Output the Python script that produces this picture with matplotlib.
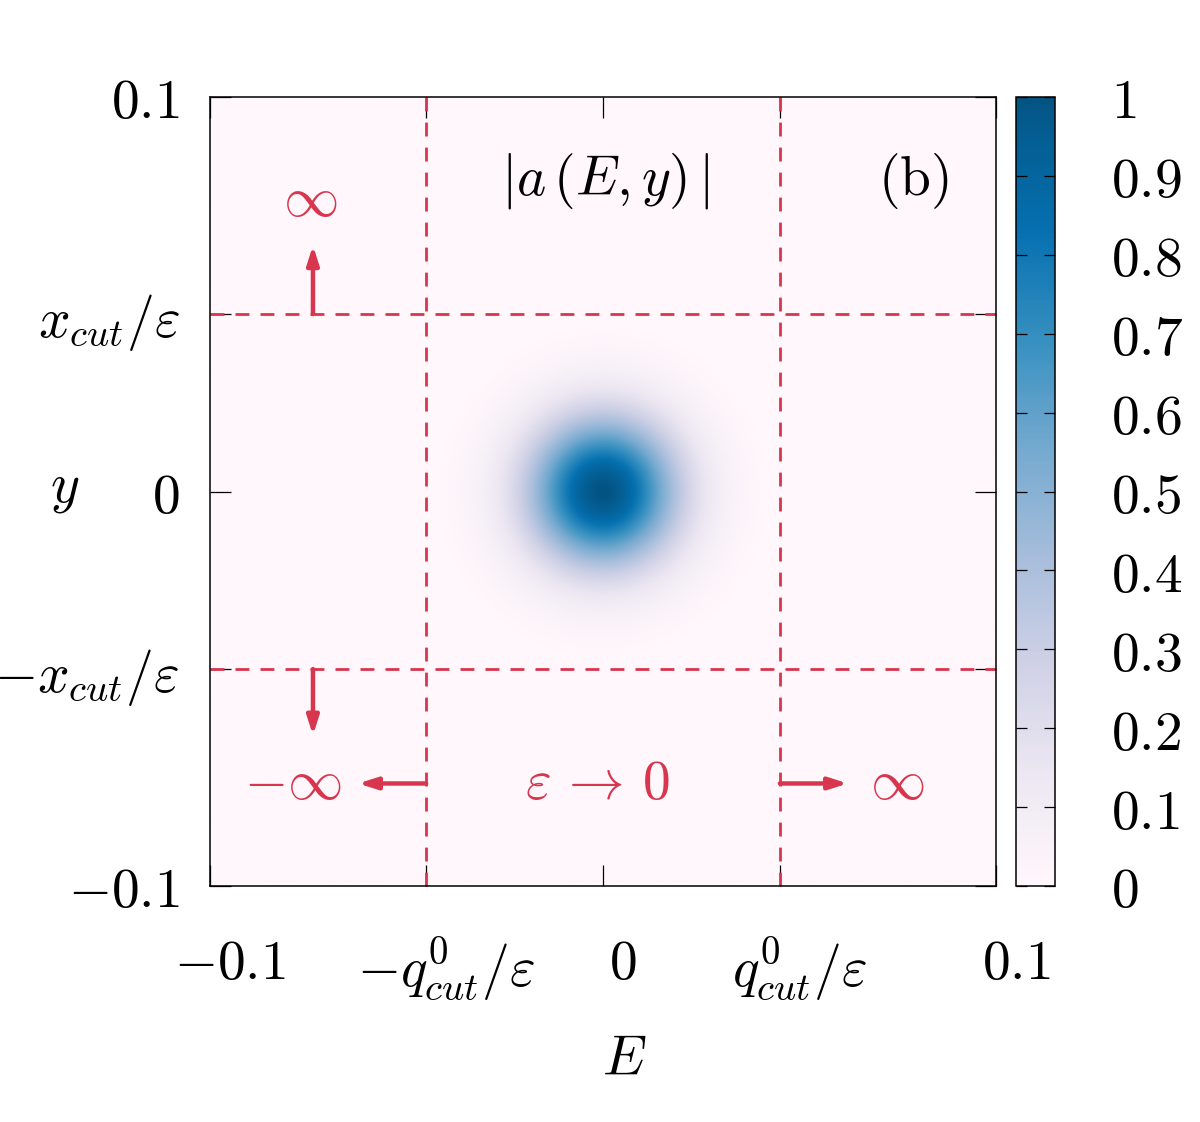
import numpy as np
import matplotlib
matplotlib.use("Agg")
import matplotlib.pyplot as plt
import matplotlib.transforms as mtrans
from matplotlib.colors import LinearSegmentedColormap

plt.rcParams['mathtext.fontset'] = 'cm'
plt.rcParams['font.family'] = 'serif'
plt.rcParams['font.serif'] = ['DejaVu Serif']

# amplitude |a(E,y)|: a single gaussian bump at the origin
peak = 1.0
center_E, center_y = 0.0, 0.0
width = 0.019

lim = 0.1
q_cut = 0.045
x_cut = 0.045

xticks = [-0.1, -q_cut, 0.0, q_cut, 0.1]
xlabels = [r'$-0.1$', r'$-q^0_{cut}/\varepsilon$', r'$0$', r'$q^0_{cut}/\varepsilon$', r'$0.1$']
yticks = [-0.1, -x_cut, 0.0, x_cut, 0.1]
ylabels = [r'$-0.1$', r'$-x_{cut}/\varepsilon$', r'$0$', r'$x_{cut}/\varepsilon$', r'$0.1$']
cbar_ticks = [0, 0.1, 0.2, 0.3, 0.4, 0.5, 0.6, 0.7, 0.8, 0.9, 1]
cbar_labels = [r'$0$'] + [r'$%.1f$' % t for t in cbar_ticks[1:-1]] + [r'$1$']

red = '#d8354f'
fs = 40

E = np.linspace(-lim, lim, 500)
Y = np.linspace(-lim, lim, 500)
EE, YY = np.meshgrid(E, Y)
A = peak * np.exp(-((EE - center_E)**2 + (YY - center_y)**2) / width**2)

base = plt.get_cmap('PuBu')
cmap = LinearSegmentedColormap.from_list('pubu_cut', base(np.linspace(0, 0.9, 256)))

fig = plt.figure(figsize=(12, 11.22), dpi=100)
ax = fig.add_axes([0.175, 0.2103, 0.655, 0.7032])
cax = fig.add_axes([0.8467, 0.2103, 0.0325, 0.7032])

im = ax.imshow(A, extent=[-lim, lim, -lim, lim], origin='lower', cmap=cmap,
               vmin=0, vmax=1, aspect='auto', interpolation='bilinear')

for v in [-q_cut, q_cut]:
    ax.axvline(v, color=red, lw=2.0, ls=(0, (5, 4)))
for v in [-x_cut, x_cut]:
    ax.axhline(v, color=red, lw=2.0, ls=(0, (5, 4)))

ax.set_xlim(-lim, lim)
ax.set_ylim(-lim, lim)
ax.set_xticks(xticks)
ax.set_xticklabels(xlabels)
ax.set_yticks(yticks)
ax.set_yticklabels(ylabels)
ax.tick_params(direction='in', length=15, width=0.9, top=True, right=True,
               labelsize=fs)
ax.tick_params(axis='x', pad=36)
ax.tick_params(axis='y', pad=22)
for s in ax.spines.values():
    s.set_linewidth(1.1)

# x tick labels sit a little to the right of their ticks
shift = mtrans.ScaledTranslation(0.2, 0, fig.dpi_scale_trans)
for lab in ax.get_xticklabels():
    lab.set_transform(lab.get_transform() + shift)

ax.set_xlabel(r'$E$', fontsize=fs)
ax.xaxis.set_label_coords(0.527, -0.185)
ax.set_ylabel(r'$y$', fontsize=fs, rotation=0)
ax.yaxis.set_label_coords(-0.185, 0.47)

arrow = dict(arrowstyle='-|>,head_length=1.1,head_width=0.35', color=red, lw=3.2,
             shrinkA=0, shrinkB=0)
ax.annotate('', xy=(-0.0738, 0.0624), xytext=(-0.0738, x_cut), arrowprops=arrow)
ax.annotate('', xy=(-0.0738, -0.0618), xytext=(-0.0738, -x_cut), arrowprops=arrow)
ax.annotate('', xy=(-0.0623, -0.074), xytext=(-q_cut, -0.074), arrowprops=arrow)
ax.annotate('', xy=(0.0623, -0.074), xytext=(q_cut, -0.074), arrowprops=arrow)

ax.text(-0.0746, 0.0738, r'$\infty$', color=red, fontsize=fs, ha='center', va='center')
ax.text(-0.079, -0.074, r'$-\infty$', color=red, fontsize=fs, ha='center', va='center')
ax.text(-0.0015, -0.074, r'$\varepsilon\,\rightarrow\,0$', color=red, fontsize=fs,
        ha='center', va='center')
ax.text(0.0748, -0.074, r'$\infty$', color=red, fontsize=fs, ha='center', va='center')
ax.text(0.0005, 0.0788, r'$|a\,(E,y)\,|$', color='black', fontsize=fs, ha='center', va='center')
ax.text(0.0789, 0.0788, r'$\mathrm{(b)}$', color='black', fontsize=fs, ha='center', va='center')

cb = fig.colorbar(im, cax=cax)
cb.set_ticks(cbar_ticks)
cb.set_ticklabels(cbar_labels)
cb.outline.set_linewidth(1.1)
cax.tick_params(direction='in', length=8, width=0.9, left=True, right=True,
                labelsize=fs, pad=40)

fig.savefig('out.png', dpi=100)
